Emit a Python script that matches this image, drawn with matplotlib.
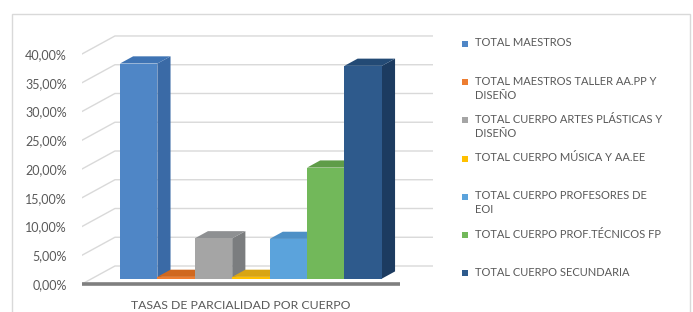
import matplotlib
matplotlib.use("Agg")
import matplotlib.pyplot as plt
from matplotlib.patches import Polygon, Rectangle

# data (percent)
series = ["TOTAL MAESTROS",
          "TOTAL MAESTROS TALLER AA.PP Y\nDISEÑO",
          "TOTAL CUERPO ARTES PLÁSTICAS Y\nDISEÑO",
          "TOTAL CUERPO MÚSICA Y AA.EE",
          "TOTAL CUERPO PROFESORES DE\nEOI",
          "TOTAL CUERPO PROF.TÉCNICOS FP",
          "TOTAL CUERPO SECUNDARIA"]
values = [37.4, 0.3, 7.0, 0.3, 6.9, 19.3, 37.0]
colors = ["#4F86C6", "#ED7D31", "#A5A5A5", "#FFC000", "#5BA3DC", "#72B85A", "#2E5A8C"]
sides = ["#3A6AA6", "#C0601E", "#7B7D7F", "#C99A10", "#4A86B8", "#5A9446", "#1C3B60"]
tops = ["#3F74B4", "#D0681F", "#8E9092", "#D9A514", "#4E90C6", "#5F9C48", "#234A75"]
yticks = [0, 5, 10, 15, 20, 25, 30, 35, 40]
ytick_labels = ["0,00%", "5,00%", "10,00%", "15,00%", "20,00%", "25,00%",
                "30,00%", "35,00%", "40,00%"]
category = "TASAS DE PARCIALIDAD POR CUERPO"

FONT = ["Lato", "DejaVu Sans"]
TXT = "#595959"
GRID = "#D9D9D9"

# fake 3D: full depth offset and where the bars sit within it
DX, DY = 0.88, 3.13
F0, F1 = 0.3, 0.7
X0, X1 = -0.75, 7.75

W, H = 693, 312
fig = plt.figure(figsize=(W / 100, H / 100), dpi=100)
fig.patches.append(Rectangle((12 / W, -0.05), 678 / W, (H - 14) / H + 0.05,
                             transform=fig.transFigure, fill=False,
                             edgecolor="#D9D9D9", lw=1.0))

ax = fig.add_axes([82 / W, 20 / H, 351 / W, 262 / H])
ax.set_xlim(X0, X1 + DX)
ax.set_ylim(-1.39, 44.17)
ax.patch.set_alpha(0)
for s in ax.spines.values():
    s.set_visible(False)

# walls gridlines
for v in yticks:
    ax.plot([X0, X0 + DX, X1 + DX], [v, v + DY, v + DY], color=GRID, lw=1.0, zorder=1)
ax.plot([X0, X1], [0, 0], color="#7F7F7F", lw=2.6, zorder=5, solid_capstyle="butt")

# bars (left to right so nearer faces cover sides)
bx, by = F0 * DX, F0 * DY
ddx, ddy = (F1 - F0) * DX, (F1 - F0) * DY
for i, (v, c, sc, tc) in enumerate(zip(values, colors, sides, tops)):
    xa, xb = i + bx, i + 1 + bx
    ya, yb = by, by + v
    z = 2 + i * 0.1
    ax.add_patch(Polygon([(xb, ya), (xb + ddx, ya + ddy), (xb + ddx, yb + ddy), (xb, yb)],
                         closed=True, facecolor=sc, edgecolor="none", zorder=z))
    ax.add_patch(Polygon([(xa, yb), (xb, yb), (xb + ddx, yb + ddy), (xa + ddx, yb + ddy)],
                         closed=True, facecolor=tc, edgecolor="none", zorder=z))
    ax.bar(xa, v, width=1.0, bottom=ya, align="edge", color=c, zorder=z + 0.05)

ax.set_xticks([])
ax.set_yticks(yticks)
ax.set_yticklabels(ytick_labels, fontsize=9, color=TXT, family=FONT)
ax.tick_params(axis="y", length=0, pad=11)
ax.text((X0 + X1) / 2, -2.7, category, ha="center", va="top", fontsize=8.8,
        color=TXT, family=FONT, transform=ax.transData, clip_on=False)

# legend on the right
for i, (lab, c) in enumerate(zip(series, colors)):
    yc = 44 + 38.2 * i
    fig.patches.append(Rectangle((462 / W, 1 - (yc + 3) / H), 6 / W, 6 / H,
                                 transform=fig.transFigure, facecolor=c, edgecolor="none"))
    fig.text(475 / W, 1 - (yc - 6.5) / H, lab, ha="left", va="top", fontsize=8,
             color=TXT, family=FONT, linespacing=1.35)

fig.savefig("out.png", dpi=100, facecolor="white")
